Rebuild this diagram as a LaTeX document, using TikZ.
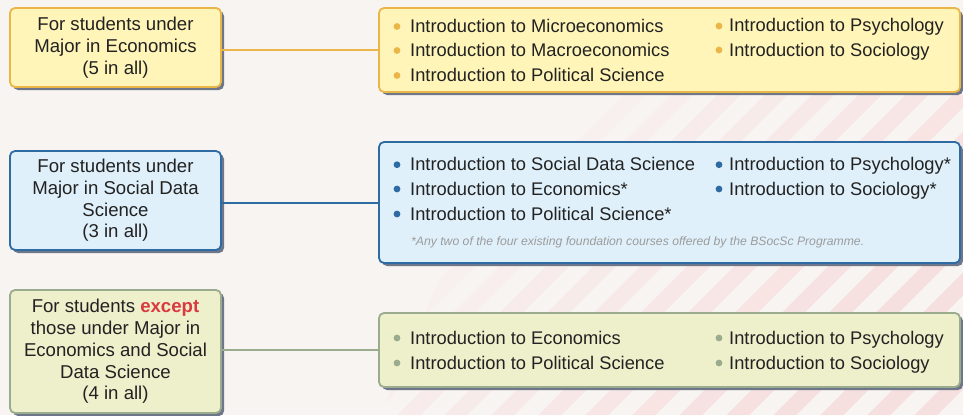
\documentclass[tikz,border=0pt]{standalone}
\usepackage{fontspec}
\setmainfont{Liberation Sans}
\usetikzlibrary{shadows}
\definecolor{bg}{HTML}{F8F4F2}
\definecolor{stripe}{HTML}{F6DFDF}
\definecolor{ylfill}{HTML}{FFF5B8}
\definecolor{yldraw}{HTML}{E9B647}
\definecolor{blfill}{HTML}{DFF0FA}
\definecolor{bldraw}{HTML}{2F6BA3}
\definecolor{grfill}{HTML}{EEEFCB}
\definecolor{grdraw}{HTML}{9AAB8E}
\definecolor{shad}{HTML}{6D7789}
\definecolor{txt}{HTML}{222222}
\definecolor{exc}{HTML}{D93A40}
\definecolor{notec}{HTML}{9C9C9C}
\begin{document}
\begin{tikzpicture}[x=1pt,y=-1pt,
  box/.style={rectangle, rounded corners=5pt, line width=1.8pt, inner sep=0pt,
    drop shadow={shadow xshift=3pt, shadow yshift=-3pt, fill=shad, opacity=1}},
  leftbox/.style={box, minimum width=211pt, align=center, text=txt,
    font=\fontsize{18.6}{21.7}\selectfont},
  rightbox/.style={box, minimum width=581pt},
  item/.style={anchor=base west, inner sep=0pt, text=txt, font=\fontsize{18.3}{22}\selectfont},
  notetext/.style={anchor=base west, inner sep=0pt, text=notec, font=\fontsize{12.2}{14}\selectfont\itshape},
  conn/.style={line width=2pt}
]
% background
\fill[bg] (0,0) rectangle (963,415);
\useasboundingbox (0,0) rectangle (963,415);
\begin{scope}
  \clip (380,415) -- (520,95) -- (963,95) -- (963,415) -- cycle;
  \foreach \i in {0,...,22} {
    \pgfmathsetmacro{\xp}{300+47*\i}
    \pgfmathsetmacro{\pc}{min(100,20+8*\i)}
    \draw[stripe!\pc!bg, line width=16pt] (\xp,430) -- ({\xp+430},0);
  }
\end{scope}

% left boxes
\node[leftbox, fill=ylfill, draw=yldraw, minimum height=79pt] (l1) at (115.5,47.5)
  {For students under\\Major in Economics\\(5 in all)};
\node[leftbox, fill=blfill, draw=bldraw, minimum height=99pt] (l2) at (115.5,200.5)
  {For students under\\Major in Social Data\\Science\\(3 in all)};
\node[leftbox, fill=grfill, draw=grdraw, minimum height=123pt] (l3) at (115.5,351.5)
  {For students {\bfseries\color{exc}except}\\those under Major in\\Economics and Social\\Data Science\\(4 in all)};

% right boxes
\node[rightbox, fill=ylfill, draw=yldraw, minimum height=84pt] (r1) at (669.5,50) {};
\node[rightbox, fill=blfill, draw=bldraw, minimum height=121pt] (r2) at (669.5,202.5) {};
\node[rightbox, fill=grfill, draw=grdraw, minimum height=74pt] (r3) at (669.5,350) {};

% connectors
\draw[conn, yldraw] (l1.east |- r1.west) -- (r1.west);
\draw[conn, bldraw] (l2.east |- r2.west) -- (r2.west);
\draw[conn, grdraw] (l3.east |- r3.west) -- (r3.west);

% box 1 items
\foreach \y in {26.5,50.5,75.5} \fill[yldraw] (397,\y) circle (3.4pt);
\foreach \y in {26,50} \fill[yldraw] (719,\y) circle (3.4pt);
\node[item] (a1) at (410,32.7) {Introduction to Microeconomics};
\node[item] (a2) at (410,56.7) {Introduction to Macroeconomics};
\node[item] (a3) at (410,81.7) {Introduction to Political Science};
\node[item] (a4) at (729,31.7) {Introduction to Psychology};
\node[item] (a5) at (729,56.2) {Introduction to Sociology};

% box 2 items
\foreach \y in {164.7,189,214} \fill[bldraw] (397,\y) circle (3.4pt);
\foreach \y in {164.7,189} \fill[bldraw] (719,\y) circle (3.4pt);
\node[item] (b1) at (410,170.7) {Introduction to Social Data Science};
\node[item] (b2) at (410,195) {Introduction to Economics*};
\node[item] (b3) at (410,220) {Introduction to Political Science*};
\node[item] (b4) at (729,170.7) {Introduction to Psychology*};
\node[item] (b5) at (729,195) {Introduction to Sociology*};
\node[notetext] (bn) at (411,245) {*Any two of the four existing foundation courses offered by the BSocSc Programme.};

% box 3 items
\foreach \y in {338,363} \fill[grdraw] (397,\y) circle (3.4pt);
\foreach \y in {338,363} \fill[grdraw] (719,\y) circle (3.4pt);
\node[item] (c1) at (410,344) {Introduction to Economics};
\node[item] (c2) at (410,369) {Introduction to Political Science};
\node[item] (c3) at (729,344) {Introduction to Psychology};
\node[item] (c4) at (729,369) {Introduction to Sociology};
\end{tikzpicture}
\end{document}
